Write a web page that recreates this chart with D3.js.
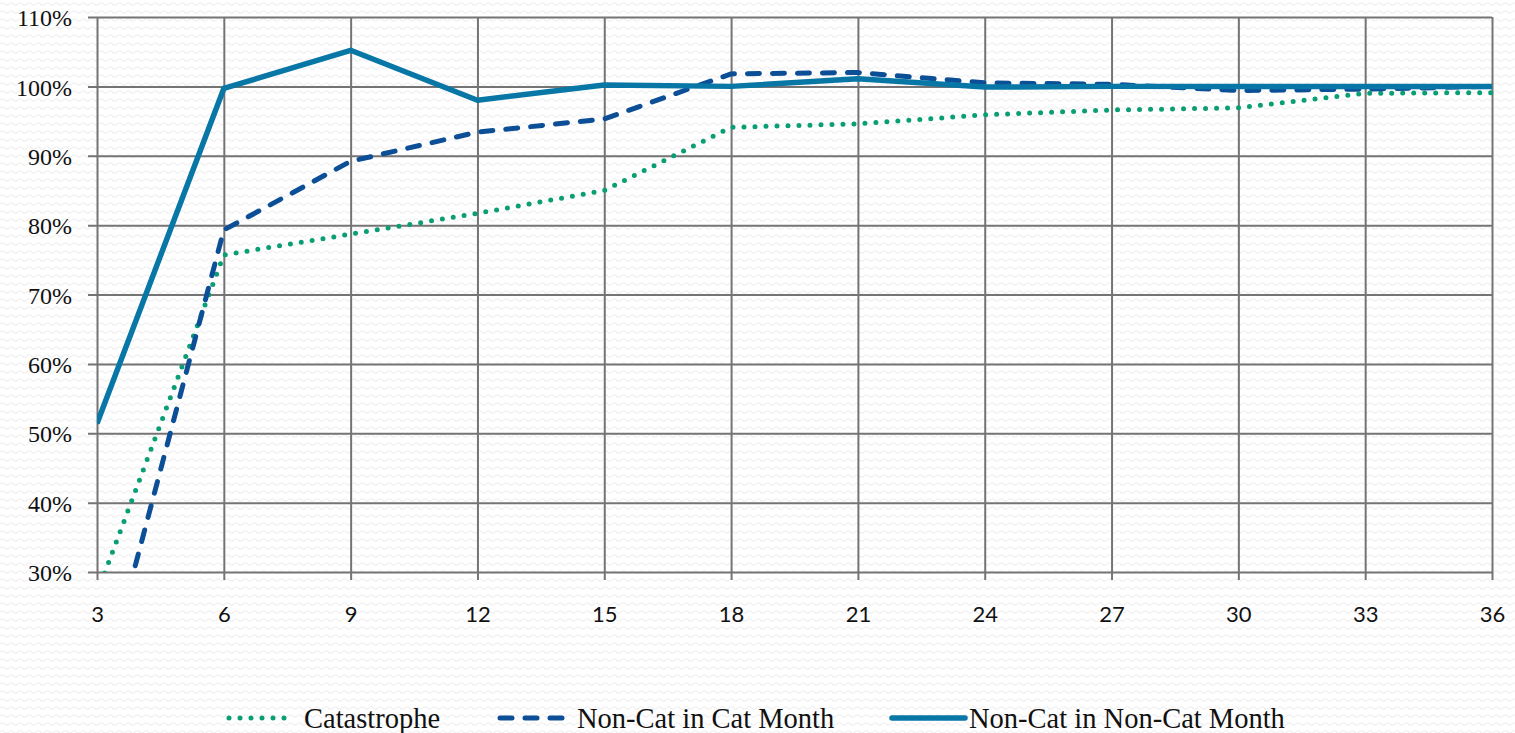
<!DOCTYPE html>
<html>
<head>
<meta charset="utf-8">
<script src="https://cdn.jsdelivr.net/npm/d3@7"></script>
<style>
  html, body { margin: 0; padding: 0; background: #ffffff; }
  svg { display: block; }
</style>
</head>
<body>
<svg id="chart" width="1515" height="733"></svg>
<script>
// Development months (x axis)
const months = [3, 6, 9, 12, 15, 18, 21, 24, 27, 30, 33, 36];
// Cumulative development, as a fraction of ultimate
const catastrophe = [0.269, 0.757, 0.787, 0.817, 0.850, 0.941, 0.946, 0.959, 0.966, 0.969, 0.990, 0.991];
const nonCatInCatMonth = [0.100, 0.793, 0.892, 0.934, 0.953, 1.018, 1.020, 1.005, 1.003, 0.994, 0.996, 1.000];
const nonCatInNonCatMonth = [0.514, 0.997, 1.052, 0.980, 1.002, 1.000, 1.011, 0.999, 1.000, 1.000, 1.000, 1.000];
const yTicks = [0.3, 0.4, 0.5, 0.6, 0.7, 0.8, 0.9, 1.0, 1.1];

const seriesList = [
  { name: "Catastrophe", values: catastrophe, color: "#0a9e74", width: 5, dash: "0 11", cap: "round" },
  { name: "Non-Cat in Cat Month", values: nonCatInCatMonth, color: "#0c4f96", width: 5, dash: "12 13", cap: "round" },
  { name: "Non-Cat in Non-Cat Month", values: nonCatInNonCatMonth, color: "#0877a6", width: 5.5, dash: null, cap: "butt" }
];

const svg = d3.select("#chart");
const plotLeft = 97, plotRight = 1492, plotTop = 17, plotBottom = 572;

// faint woven background texture
const defs = svg.append("defs");
const pat = defs.append("pattern")
  .attr("id", "weave").attr("patternUnits", "userSpaceOnUse")
  .attr("width", 9).attr("height", 8);
pat.append("path")
  .attr("d", "M0,4 Q2.25,1.5 4.5,4 T9,4")
  .attr("fill", "none").attr("stroke", "#efefef").attr("stroke-width", 1.2);
svg.append("rect").attr("width", 1515).attr("height", 733).attr("fill", "url(#weave)");

defs.append("clipPath").attr("id", "plotClip")
  .append("rect").attr("x", plotLeft).attr("y", plotTop - 10)
  .attr("width", plotRight - plotLeft + 10).attr("height", plotBottom - plotTop + 10);

const x = d3.scaleLinear().domain([3, 36]).range([plotLeft, plotRight]);
const y = d3.scaleLinear().domain([0.3, 1.1]).range([plotBottom, plotTop]);

const gridColor = "#747474";

// horizontal gridlines via left axis
const yAxis = d3.axisLeft(y).tickValues(yTicks)
  .tickSize(-(plotRight - plotLeft)).tickSizeOuter(0)
  .tickFormat(d => Math.round(d * 100) + "%");
const gy = svg.append("g").attr("transform", `translate(${plotLeft},0)`).call(yAxis);
gy.select(".domain").remove();
gy.selectAll(".tick line").attr("stroke", gridColor).attr("stroke-width", 2)
  .attr("x1", -9);
gy.selectAll(".tick text")
  .attr("x", -25).attr("dy", "0.36em")
  .attr("font-family", "'Liberation Serif', 'DejaVu Serif', serif")
  .attr("font-size", 24).attr("fill", "#111");

// vertical gridlines via bottom axis
const xAxis = d3.axisBottom(x).tickValues(months)
  .tickSize(-(plotBottom - plotTop)).tickSizeOuter(0);
const gx = svg.append("g").attr("transform", `translate(0,${plotBottom})`).call(xAxis);
gx.select(".domain").remove();
gx.selectAll(".tick line").attr("stroke", gridColor).attr("stroke-width", 2)
  .attr("y1", 8);
gx.selectAll(".tick text")
  .attr("y", 42).attr("dy", "0.36em")
  .attr("font-family", "Lato, 'Liberation Sans', sans-serif")
  .attr("font-size", 22).attr("fill", "#111");

// series lines
const line = d3.line().x((d, i) => x(months[i])).y(d => y(d));
const plot = svg.append("g").attr("clip-path", "url(#plotClip)");
seriesList.forEach(s => {
  plot.append("path")
    .datum(s.values)
    .attr("d", line)
    .attr("fill", "none")
    .attr("stroke", s.color)
    .attr("stroke-width", s.width)
    .attr("stroke-linejoin", "round")
    .attr("stroke-linecap", s.cap)
    .attr("stroke-dasharray", s.dash);
});

// legend
const legendItems = [
  { s: seriesList[0], x0: 229, x1: 292, tx: 304 },
  { s: seriesList[1], x0: 500, x1: 562, tx: 577 },
  { s: seriesList[2], x0: 892, x1: 965, tx: 969 }
];
const legendY = 718;
const lg = svg.append("g");
legendItems.forEach(it => {
  lg.append("line")
    .attr("x1", it.x0).attr("x2", it.x1).attr("y1", legendY).attr("y2", legendY)
    .attr("stroke", it.s.color).attr("stroke-width", it.s.width)
    .attr("stroke-linecap", "round")
    .attr("stroke-dasharray", it.s.dash);
  lg.append("text")
    .attr("x", it.tx).attr("y", legendY).attr("dy", "0.35em")
    .attr("font-family", "'Liberation Serif', 'DejaVu Serif', serif")
    .attr("font-size", 28.5).attr("fill", "#111")
    .text(it.s.name);
});
</script>
</body>
</html>
